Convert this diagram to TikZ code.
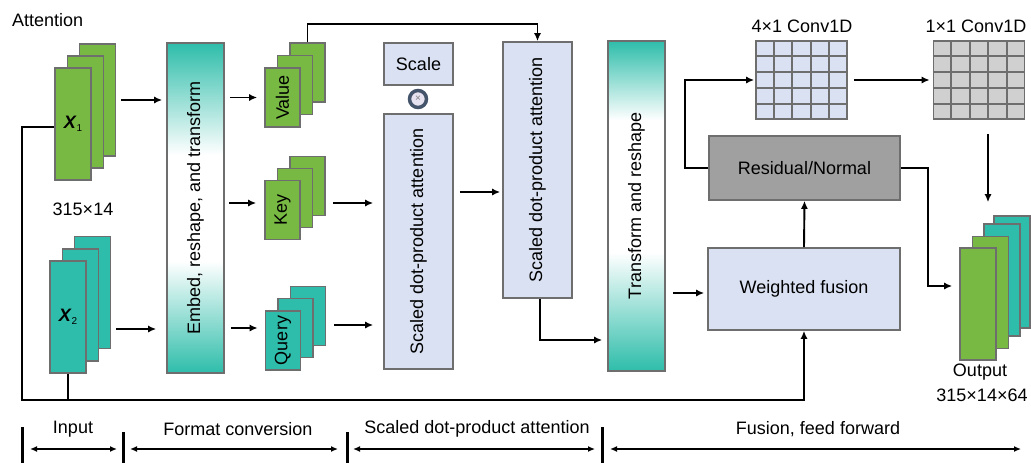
\documentclass[tikz,border=0pt]{standalone}
\usepackage{fontspec}
\setmainfont{Liberation Sans}
\usetikzlibrary{arrows.meta,calc}

\definecolor{leaf}{HTML}{78B943}
\definecolor{sea}{HTML}{2EBDAA}
\definecolor{pale}{HTML}{D9E1F2}
\definecolor{edge}{HTML}{6E6E6E}
\definecolor{resgray}{HTML}{A0A0A0}
\definecolor{cellgray}{HTML}{D0D0D0}
\definecolor{ringc}{HTML}{44546A}
\definecolor{ringfill}{HTML}{E6E2F0}

% teal-white-teal bands for the two reshaping blocks
\pgfdeclareverticalshading{embedband}{100bp}{color(0bp)=(sea); color(25bp)=(sea); color(42bp)=(white); color(58bp)=(white); color(75bp)=(sea); color(100bp)=(sea)}
\pgfdeclareverticalshading{transband}{100bp}{color(0bp)=(sea); color(25bp)=(sea); color(43bp)=(white); color(63bp)=(white); color(75bp)=(sea); color(100bp)=(sea)}

\newcommand{\xlab}[1]{\textbf{\textit{X}}\raisebox{-0.35ex}{\fontsize{10}{10}\selectfont #1}}

\begin{document}
\begin{tikzpicture}[x=1pt,y=-1pt,
  font=\fontsize{18}{21}\selectfont,
  >={Latex[length=8pt,width=7pt]},
  txt/.style={inner sep=0pt},
  sheet/.style={draw=edge, line width=1.6pt, minimum width=36pt, minimum height=112pt, inner sep=0pt},
  gsheet/.style={sheet, fill=leaf},
  tsheet/.style={sheet, fill=sea},
  card/.style={draw=edge, line width=1.6pt, minimum width=35pt, minimum height=59pt, inner sep=0pt},
  panel/.style={draw=edge, line width=1.6pt, fill=pale, inner sep=0pt},
  band/.style={draw=edge, line width=1.6pt, inner sep=0pt, minimum width=57pt, minimum height=330pt},
  grid/.style={draw=edge, line width=1.6pt, minimum width=91pt, minimum height=78pt, inner sep=0pt},
  gridline/.style={draw=edge, line width=1.6pt},
  conn/.style={line width=1.9pt},
  arr/.style={conn, ->},
  tick/.style={line width=3pt},
  span/.style={line width=1.3pt, {Latex[length=7pt,width=6pt]}-{Latex[length=7pt,width=6pt]}}
]
\useasboundingbox (0,0) rectangle (1031,463);

\node[txt, anchor=west] (title) at (12,20) {Attention};

% input sheets
\node[gsheet] (x1c) at (97.5,100) {};
\node[gsheet] (x1b) at (85.5,112) {};
\node[gsheet] (x1a) at (73,124) {\xlab{1}};
\node[txt] (x1size) at (83,209) {315×14};

\node[tsheet] (x2c) at (92.5,292.5) {};
\node[tsheet] (x2b) at (80.5,305) {};
\node[tsheet] (x2a) at (68,317) {\xlab{2}};

% format conversion
\node[band, shading=embedband] (emb) at (195.5,208) {\rotatebox{90}{Embed, reshape, and transform}};

\node[card, fill=leaf] (vc) at (307.5,72.5) {};
\node[card, fill=leaf] (vb) at (295,85) {};
\node[card, fill=leaf] (va) at (282.5,97.5) {\rotatebox{90}{Value}};

\node[card, fill=leaf] (kc) at (307.5,186) {};
\node[card, fill=leaf] (kb) at (295,198) {};
\node[card, fill=leaf] (ka) at (282.5,210) {\rotatebox{90}{Key}};

\node[card, fill=sea] (qc) at (308,316) {};
\node[card, fill=sea] (qb) at (295.5,328) {};
\node[card, fill=sea] (qa) at (283,340.5) {\rotatebox{90}{Query}};

% attention
\node[panel, minimum width=69pt, minimum height=42pt] (scale) at (418.5,64) {Scale};
\node[circle, draw=ringc, line width=3.5pt, fill=ringfill, minimum size=17pt, inner sep=0pt,
      text=gray, font=\fontsize{10}{10}\selectfont] (ring) at (418,99) {×};
\node[panel, minimum width=69pt, minimum height=255pt] (s1) at (418.5,241.5) {\rotatebox{90}{Scaled dot-product attention}};
\node[panel, minimum width=69pt, minimum height=256pt] (s2) at (537.5,170) {\rotatebox{90}{Scaled dot-product attention}};

% fusion and feed forward
\node[band, shading=transband] (tr) at (636.5,206) {\rotatebox{90}{Transform and reshape}};
\node[panel, minimum width=192pt, minimum height=82pt] (wf) at (804,289) {Weighted fusion};
\node[draw=edge, line width=1.6pt, fill=resgray, inner sep=0pt, minimum width=191pt, minimum height=64pt] (res) at (804.5,168) {Residual/Normal};

\node[grid, fill=pale] (c4) at (801.5,80) {};
\node[grid, fill=cellgray] (c1) at (979,80) {};
\foreach \g in {c4,c1}{
  \foreach \i in {1,...,4}{
    \draw[gridline] ($(\g.north west)!\i/5!(\g.north east)$) -- ($(\g.south west)!\i/5!(\g.south east)$);
    \draw[gridline] ($(\g.north west)!\i/5!(\g.south west)$) -- ($(\g.north east)!\i/5!(\g.south east)$);
  }
}
\node[txt] (c4lab) at (802,26) {4×1 Conv1D};
\node[txt] (c1lab) at (976,26) {1×1 Conv1D};

\node[tsheet] (o4) at (1012,272) {};
\node[tsheet] (o3) at (1002,280) {};
\node[gsheet] (o2) at (990.5,292.5) {};
\node[gsheet] (o1) at (978,304) {};
\node[txt] (olab) at (980,372) {Output};
\node[txt] (osize) at (982,395) {315×14×64};

% connectors
\coordinate (loop) at (22,400);
\draw[arr] ([yshift=-3pt]x1a.west) -| (loop) -| (wf.south);
\draw[conn] (x2a.south) -- (x2a.south |- loop);

\draw[arr, shorten <=5pt, shorten >=4pt] (x1c.east) -- (emb.west |- x1c.east);
\coordinate (x2out) at ([yshift=-36.5pt]x2c.east);
\draw[arr, shorten <=5pt, shorten >=10pt] (x2out) -- (emb.west |- x2out);

\draw[arr, shorten <=5pt, shorten >=7pt] (emb.east |- va.west) -- (va.west);
\coordinate (kin) at ([yshift=7pt]ka.west);
\draw[arr, shorten <=4pt, shorten >=8pt] (emb.east |- kin) -- (kin);
\coordinate (qin) at ([yshift=12.5pt]qa.west);
\draw[arr, shorten <=6pt, shorten >=7pt] (emb.east |- qin) -- (qin);

\coordinate (kout) at ([yshift=-17pt]kc.east);
\draw[arr, shorten <=7pt, shorten >=10pt] (kout) -- (s1.west |- kout);
\coordinate (qout) at ([yshift=-9pt]qc.east);
\draw[arr, shorten <=8pt, shorten >=10pt] (qout) -- (s1.west |- qout);

\draw[arr] (vc.north) -- ++(0,-18) -| (s2.north);

\coordinate (s2in) at ([yshift=-22pt]s2.west);
\draw[arr, shorten <=6pt, shorten >=2pt] (s1.east |- s2in) -- (s2in);

\coordinate (trin) at ([yshift=-134pt]tr.west);
\draw[arr, shorten >=5pt] ([xshift=2.5pt]s2.south) |- (trin);

\coordinate (wfin) at ([yshift=-4pt]wf.west);
\draw[arr, shorten <=7pt, shorten >=3pt] (tr.east |- wfin) -- (wfin);
\draw[arr] (wf.north) -- (res.south);

\draw[arr, shorten >=1pt] (res.west) -- ++(-23,0) |- (c4.west);
\draw[arr, shorten <=6pt, shorten >=3pt] (c4.east) -- (c1.west);

\coordinate (cdown) at ([xshift=9pt]c1.south);
\draw[arr, shorten <=14pt, shorten >=13pt] (cdown) -- (cdown |- o4.north);

\coordinate (oin) at ([yshift=18pt]o1.west);
\draw[arr, shorten >=7pt] (res.east) -- ++(27,0) |- (oin);

% stage scale
\coordinate (m0) at (22,449);
\coordinate (m1) at (123,449);
\coordinate (m2) at (347,449);
\coordinate (m3) at (602,449);
\coordinate (m4) at (1024,449);
\draw[tick] ([yshift=22pt]m0) -- ([yshift=-14pt]m0);
\draw[tick] ([yshift=17pt]m1) -- ([yshift=-14pt]m1);
\draw[tick] ([yshift=17pt]m2) -- ([yshift=-14pt]m2);
\draw[tick] ([yshift=22pt]m3) -- ([yshift=-14pt]m3);
\draw[span] ([xshift=8pt]m0) -- ([xshift=-6pt]m1);
\draw[span] ([xshift=7pt]m1) -- ([xshift=-9pt]m2);
\draw[span] ([xshift=6pt]m2) -- ([xshift=-7pt]m3);
\draw[span] ([xshift=8pt]m3) -- ([xshift=-3pt]m4);
\node[txt] (l0) at (73,429) {Input};
\node[txt] (l1) at (238,429) {Format conversion};
\node[txt] (l2) at (477,429) {Scaled dot-product attention};
\node[txt] (l3) at (818,429) {Fusion, feed forward};
\end{tikzpicture}
\end{document}
